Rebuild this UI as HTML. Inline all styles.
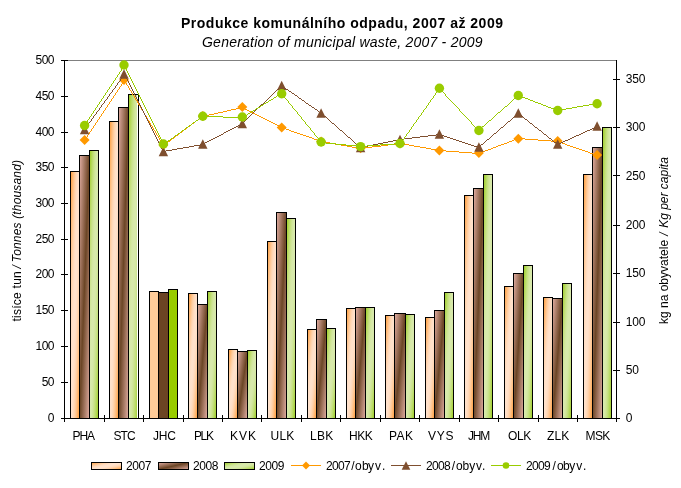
<!DOCTYPE html><html><head><meta charset="utf-8"><title>Produkce komunálního odpadu</title>
<style>html,body{margin:0;padding:0;background:#fff}svg{display:block}text{font-family:"Liberation Sans",Arial,sans-serif;fill:#000}</style></head><body>
<svg width="681" height="488" viewBox="0 0 681 488">
<defs>
<linearGradient id="g7" x1="0" y1="0" x2="1" y2="1"><stop offset="0.00" stop-color="#FF9933"/><stop offset="0.05" stop-color="#FFA44B"/><stop offset="0.10" stop-color="#FFB062"/><stop offset="0.15" stop-color="#FFBA78"/><stop offset="0.20" stop-color="#FFC48D"/><stop offset="0.25" stop-color="#FFCD9F"/><stop offset="0.30" stop-color="#FFD4AF"/><stop offset="0.35" stop-color="#FFDABB"/><stop offset="0.40" stop-color="#FFDEC5"/><stop offset="0.45" stop-color="#FFE1CA"/><stop offset="0.50" stop-color="#FFE2CC"/><stop offset="0.55" stop-color="#FFE1CA"/><stop offset="0.60" stop-color="#FFDEC5"/><stop offset="0.65" stop-color="#FFDABB"/><stop offset="0.70" stop-color="#FFD4AF"/><stop offset="0.75" stop-color="#FFCD9F"/><stop offset="0.80" stop-color="#FFC48D"/><stop offset="0.85" stop-color="#FFBA78"/><stop offset="0.90" stop-color="#FFB062"/><stop offset="0.95" stop-color="#FFA44B"/><stop offset="1.00" stop-color="#FF9933"/></linearGradient>
<linearGradient id="g8" x1="0" y1="0" x2="1" y2="1"><stop offset="0.00" stop-color="#E2AEA3"/><stop offset="0.05" stop-color="#D6A496"/><stop offset="0.10" stop-color="#CA998A"/><stop offset="0.15" stop-color="#BE8E7D"/><stop offset="0.20" stop-color="#B28471"/><stop offset="0.25" stop-color="#A67A64"/><stop offset="0.30" stop-color="#9B6F57"/><stop offset="0.35" stop-color="#8F644B"/><stop offset="0.40" stop-color="#835A3E"/><stop offset="0.45" stop-color="#775032"/><stop offset="0.50" stop-color="#6B4525"/><stop offset="0.55" stop-color="#775032"/><stop offset="0.60" stop-color="#835A3E"/><stop offset="0.65" stop-color="#8F644B"/><stop offset="0.70" stop-color="#9B6F57"/><stop offset="0.75" stop-color="#A67A64"/><stop offset="0.80" stop-color="#B28471"/><stop offset="0.85" stop-color="#BE8E7D"/><stop offset="0.90" stop-color="#CA998A"/><stop offset="0.95" stop-color="#D6A496"/><stop offset="1.00" stop-color="#E2AEA3"/></linearGradient>
<linearGradient id="g9" x1="0" y1="0" x2="1" y2="1"><stop offset="0.00" stop-color="#99CC1A"/><stop offset="0.05" stop-color="#A3D131"/><stop offset="0.10" stop-color="#ACD547"/><stop offset="0.15" stop-color="#B6D95C"/><stop offset="0.20" stop-color="#BEDD70"/><stop offset="0.25" stop-color="#C6E181"/><stop offset="0.30" stop-color="#CCE390"/><stop offset="0.35" stop-color="#D1E69C"/><stop offset="0.40" stop-color="#D5E8A5"/><stop offset="0.45" stop-color="#D7E9AA"/><stop offset="0.50" stop-color="#D8E9AC"/><stop offset="0.55" stop-color="#D7E9AA"/><stop offset="0.60" stop-color="#D5E8A5"/><stop offset="0.65" stop-color="#D1E69C"/><stop offset="0.70" stop-color="#CCE390"/><stop offset="0.75" stop-color="#C6E181"/><stop offset="0.80" stop-color="#BEDD70"/><stop offset="0.85" stop-color="#B6D95C"/><stop offset="0.90" stop-color="#ACD547"/><stop offset="0.95" stop-color="#A3D131"/><stop offset="1.00" stop-color="#99CC1A"/></linearGradient>
</defs>
<rect width="681" height="488" fill="#fff"/>
<text x="181" y="28.3" font-size="14" font-weight="bold" textLength="322" lengthAdjust="spacing">Produkce komunálního odpadu, 2007 až 2009</text>
<text x="202" y="47.3" font-size="14" font-style="italic" textLength="280.5" lengthAdjust="spacing">Generation of municipal waste, 2007 - 2009</text>
<g shape-rendering="crispEdges">
<rect x="64" y="60" width="553" height="1" fill="#808080"/>
<rect x="70.5" y="171.5" width="9" height="247" fill="url(#g7)" stroke="#000" stroke-width="1"/>
<rect x="79.5" y="155.5" width="10" height="263" fill="url(#g8)" stroke="#000" stroke-width="1"/>
<rect x="89.5" y="150.5" width="9" height="268" fill="url(#g9)" stroke="#000" stroke-width="1"/>
<rect x="109.5" y="121.5" width="9" height="297" fill="url(#g7)" stroke="#000" stroke-width="1"/>
<rect x="118.5" y="107.5" width="10" height="311" fill="url(#g8)" stroke="#000" stroke-width="1"/>
<rect x="128.5" y="94.5" width="10" height="324" fill="url(#g9)" stroke="#000" stroke-width="1"/>
<rect x="137" y="95" width="1" height="323" fill="#fff"/>
<rect x="149.5" y="291.5" width="9" height="127" fill="#FFCC99" stroke="#000" stroke-width="1"/>
<rect x="158.5" y="292.5" width="10" height="126" fill="#6B4423" stroke="#000" stroke-width="1"/>
<rect x="168.5" y="289.5" width="9" height="129" fill="#99CC00" stroke="#000" stroke-width="1"/>
<rect x="188.5" y="293.5" width="9" height="125" fill="url(#g7)" stroke="#000" stroke-width="1"/>
<rect x="197.5" y="304.5" width="10" height="114" fill="url(#g8)" stroke="#000" stroke-width="1"/>
<rect x="207.5" y="291.5" width="9" height="127" fill="url(#g9)" stroke="#000" stroke-width="1"/>
<rect x="228.5" y="349.5" width="9" height="69" fill="url(#g7)" stroke="#000" stroke-width="1"/>
<rect x="237.5" y="351.5" width="10" height="67" fill="url(#g8)" stroke="#000" stroke-width="1"/>
<rect x="247.5" y="350.5" width="9" height="68" fill="url(#g9)" stroke="#000" stroke-width="1"/>
<rect x="267.5" y="241.5" width="9" height="177" fill="url(#g7)" stroke="#000" stroke-width="1"/>
<rect x="276.5" y="212.5" width="10" height="206" fill="url(#g8)" stroke="#000" stroke-width="1"/>
<rect x="286.5" y="218.5" width="9" height="200" fill="url(#g9)" stroke="#000" stroke-width="1"/>
<rect x="307.5" y="329.5" width="9" height="89" fill="url(#g7)" stroke="#000" stroke-width="1"/>
<rect x="316.5" y="319.5" width="10" height="99" fill="url(#g8)" stroke="#000" stroke-width="1"/>
<rect x="326.5" y="328.5" width="9" height="90" fill="url(#g9)" stroke="#000" stroke-width="1"/>
<rect x="346.5" y="308.5" width="9" height="110" fill="url(#g7)" stroke="#000" stroke-width="1"/>
<rect x="355.5" y="307.5" width="10" height="111" fill="url(#g8)" stroke="#000" stroke-width="1"/>
<rect x="365.5" y="307.5" width="9" height="111" fill="url(#g9)" stroke="#000" stroke-width="1"/>
<rect x="385.5" y="315.5" width="9" height="103" fill="url(#g7)" stroke="#000" stroke-width="1"/>
<rect x="394.5" y="313.5" width="11" height="105" fill="url(#g8)" stroke="#000" stroke-width="1"/>
<rect x="405.5" y="314.5" width="9" height="104" fill="url(#g9)" stroke="#000" stroke-width="1"/>
<rect x="425.5" y="317.5" width="9" height="101" fill="url(#g7)" stroke="#000" stroke-width="1"/>
<rect x="434.5" y="310.5" width="10" height="108" fill="url(#g8)" stroke="#000" stroke-width="1"/>
<rect x="444.5" y="292.5" width="9" height="126" fill="url(#g9)" stroke="#000" stroke-width="1"/>
<rect x="464.5" y="195.5" width="9" height="223" fill="url(#g7)" stroke="#000" stroke-width="1"/>
<rect x="473.5" y="188.5" width="10" height="230" fill="url(#g8)" stroke="#000" stroke-width="1"/>
<rect x="483.5" y="174.5" width="9" height="244" fill="url(#g9)" stroke="#000" stroke-width="1"/>
<rect x="504.5" y="286.5" width="9" height="132" fill="url(#g7)" stroke="#000" stroke-width="1"/>
<rect x="513.5" y="273.5" width="10" height="145" fill="url(#g8)" stroke="#000" stroke-width="1"/>
<rect x="523.5" y="265.5" width="9" height="153" fill="url(#g9)" stroke="#000" stroke-width="1"/>
<rect x="543.5" y="297.5" width="9" height="121" fill="url(#g7)" stroke="#000" stroke-width="1"/>
<rect x="552.5" y="298.5" width="10" height="120" fill="url(#g8)" stroke="#000" stroke-width="1"/>
<rect x="562.5" y="283.5" width="9" height="135" fill="url(#g9)" stroke="#000" stroke-width="1"/>
<rect x="583.5" y="174.5" width="9" height="244" fill="url(#g7)" stroke="#000" stroke-width="1"/>
<rect x="592.5" y="147.5" width="10" height="271" fill="url(#g8)" stroke="#000" stroke-width="1"/>
<rect x="602.5" y="127.5" width="9" height="291" fill="url(#g9)" stroke="#000" stroke-width="1"/>
<rect x="64" y="60" width="1" height="359" fill="#000"/>
<rect x="616" y="60" width="1" height="359" fill="#000"/>
<rect x="64" y="418" width="553" height="1" fill="#000"/>
<rect x="61" y="418" width="7" height="1" fill="#000"/>
<rect x="61" y="382" width="7" height="1" fill="#000"/>
<rect x="61" y="346" width="7" height="1" fill="#000"/>
<rect x="61" y="310" width="7" height="1" fill="#000"/>
<rect x="61" y="274" width="7" height="1" fill="#000"/>
<rect x="61" y="239" width="7" height="1" fill="#000"/>
<rect x="61" y="203" width="7" height="1" fill="#000"/>
<rect x="61" y="167" width="7" height="1" fill="#000"/>
<rect x="61" y="132" width="7" height="1" fill="#000"/>
<rect x="61" y="96" width="7" height="1" fill="#000"/>
<rect x="61" y="60" width="7" height="1" fill="#000"/>
<rect x="613" y="418" width="7" height="1" fill="#000"/>
<rect x="613" y="370" width="7" height="1" fill="#000"/>
<rect x="613" y="322" width="7" height="1" fill="#000"/>
<rect x="613" y="273" width="7" height="1" fill="#000"/>
<rect x="613" y="225" width="7" height="1" fill="#000"/>
<rect x="613" y="175" width="7" height="1" fill="#000"/>
<rect x="613" y="127" width="7" height="1" fill="#000"/>
<rect x="613" y="79" width="7" height="1" fill="#000"/>
<rect x="64" y="415" width="1" height="7" fill="#000"/>
<rect x="104" y="415" width="1" height="7" fill="#000"/>
<rect x="143" y="415" width="1" height="7" fill="#000"/>
<rect x="183" y="415" width="1" height="7" fill="#000"/>
<rect x="222" y="415" width="1" height="7" fill="#000"/>
<rect x="261" y="415" width="1" height="7" fill="#000"/>
<rect x="301" y="415" width="1" height="7" fill="#000"/>
<rect x="340" y="415" width="1" height="7" fill="#000"/>
<rect x="380" y="415" width="1" height="7" fill="#000"/>
<rect x="419" y="415" width="1" height="7" fill="#000"/>
<rect x="459" y="415" width="1" height="7" fill="#000"/>
<rect x="498" y="415" width="1" height="7" fill="#000"/>
<rect x="538" y="415" width="1" height="7" fill="#000"/>
<rect x="577" y="415" width="1" height="7" fill="#000"/>
<rect x="616" y="415" width="1" height="7" fill="#000"/>
</g>
<path shape-rendering="crispEdges" fill="#FF9900" d="M124 80h1v1h-1zM123 81h1v1h-1zM125 81h1v1h-1zM123 82h1v1h-1zM125 82h1v1h-1zM122 83h1v1h-1zM126 83h1v1h-1zM121 84h1v1h-1zM126 84h1v1h-1zM121 85h1v1h-1zM127 85h1v1h-1zM120 86h1v1h-1zM128 86h1v1h-1zM119 87h1v1h-1zM128 87h1v1h-1zM119 88h1v1h-1zM129 88h1v1h-1zM118 89h1v1h-1zM129 89h1v1h-1zM117 90h1v1h-1zM130 90h1v1h-1zM117 91h1v1h-1zM131 91h1v1h-1zM116 92h1v1h-1zM131 92h1v1h-1zM115 93h1v1h-1zM132 93h1v1h-1zM115 94h1v1h-1zM132 94h1v1h-1zM114 95h1v1h-1zM133 95h1v1h-1zM113 96h1v1h-1zM134 96h1v1h-1zM113 97h1v1h-1zM134 97h1v1h-1zM112 98h1v1h-1zM135 98h1v1h-1zM111 99h1v1h-1zM135 99h1v1h-1zM111 100h1v1h-1zM136 100h1v1h-1zM110 101h1v1h-1zM137 101h1v1h-1zM109 102h1v1h-1zM137 102h1v1h-1zM109 103h1v1h-1zM138 103h1v1h-1zM108 104h1v1h-1zM138 104h1v1h-1zM107 105h1v1h-1zM139 105h1v1h-1zM107 106h1v1h-1zM140 106h1v1h-1zM106 107h1v1h-1zM140 107h1v1h-1zM240 107h3v1h-3zM105 108h1v1h-1zM141 108h1v1h-1zM236 108h4v1h-4zM243 108h2v1h-2zM105 109h1v1h-1zM141 109h1v1h-1zM231 109h5v1h-5zM245 109h2v1h-2zM104 110h1v1h-1zM142 110h1v1h-1zM227 110h4v1h-4zM247 110h2v1h-2zM103 111h1v1h-1zM143 111h1v1h-1zM223 111h4v1h-4zM249 111h2v1h-2zM103 112h1v1h-1zM143 112h1v1h-1zM218 112h5v1h-5zM251 112h2v1h-2zM102 113h1v1h-1zM144 113h1v1h-1zM214 113h4v1h-4zM253 113h2v1h-2zM101 114h1v1h-1zM144 114h1v1h-1zM209 114h5v1h-5zM255 114h2v1h-2zM101 115h1v1h-1zM145 115h1v1h-1zM205 115h4v1h-4zM257 115h2v1h-2zM100 116h1v1h-1zM146 116h1v1h-1zM202 116h3v1h-3zM259 116h2v1h-2zM99 117h1v1h-1zM146 117h1v1h-1zM200 117h2v1h-2zM261 117h2v1h-2zM99 118h1v1h-1zM147 118h1v1h-1zM199 118h1v1h-1zM263 118h2v1h-2zM98 119h1v1h-1zM147 119h1v1h-1zM198 119h1v1h-1zM265 119h2v1h-2zM97 120h1v1h-1zM148 120h1v1h-1zM196 120h2v1h-2zM267 120h2v1h-2zM97 121h1v1h-1zM149 121h1v1h-1zM195 121h1v1h-1zM269 121h2v1h-2zM96 122h1v1h-1zM149 122h1v1h-1zM194 122h1v1h-1zM271 122h2v1h-2zM95 123h1v1h-1zM150 123h1v1h-1zM192 123h2v1h-2zM273 123h2v1h-2zM95 124h1v1h-1zM150 124h1v1h-1zM191 124h1v1h-1zM275 124h2v1h-2zM94 125h1v1h-1zM151 125h1v1h-1zM190 125h1v1h-1zM277 125h2v1h-2zM93 126h1v1h-1zM152 126h1v1h-1zM188 126h2v1h-2zM279 126h2v1h-2zM93 127h1v1h-1zM152 127h1v1h-1zM187 127h1v1h-1zM281 127h2v1h-2zM92 128h1v1h-1zM153 128h1v1h-1zM186 128h1v1h-1zM283 128h3v1h-3zM91 129h1v1h-1zM153 129h1v1h-1zM184 129h2v1h-2zM286 129h3v1h-3zM91 130h1v1h-1zM154 130h1v1h-1zM183 130h1v1h-1zM289 130h2v1h-2zM90 131h1v1h-1zM155 131h1v1h-1zM182 131h1v1h-1zM291 131h3v1h-3zM89 132h1v1h-1zM155 132h1v1h-1zM180 132h2v1h-2zM294 132h3v1h-3zM89 133h1v1h-1zM156 133h1v1h-1zM179 133h1v1h-1zM297 133h3v1h-3zM88 134h1v1h-1zM156 134h1v1h-1zM178 134h1v1h-1zM300 134h3v1h-3zM87 135h1v1h-1zM157 135h1v1h-1zM176 135h2v1h-2zM303 135h3v1h-3zM87 136h1v1h-1zM158 136h1v1h-1zM175 136h1v1h-1zM306 136h3v1h-3zM86 137h1v1h-1zM158 137h1v1h-1zM174 137h1v1h-1zM309 137h3v1h-3zM85 138h1v1h-1zM159 138h1v1h-1zM172 138h2v1h-2zM312 138h2v1h-2zM517 138h8v1h-8zM85 139h1v1h-1zM159 139h1v1h-1zM171 139h1v1h-1zM314 139h3v1h-3zM514 139h3v1h-3zM525 139h13v1h-13zM84 140h1v1h-1zM160 140h1v1h-1zM170 140h1v1h-1zM317 140h3v1h-3zM512 140h2v1h-2zM538 140h13v1h-13zM161 141h1v1h-1zM168 141h2v1h-2zM320 141h4v1h-4zM509 141h3v1h-3zM551 141h8v1h-8zM161 142h1v1h-1zM167 142h1v1h-1zM324 142h6v1h-6zM507 142h2v1h-2zM559 142h3v1h-3zM162 143h1v1h-1zM166 143h1v1h-1zM330 143h5v1h-5zM397 143h6v1h-6zM504 143h3v1h-3zM562 143h3v1h-3zM162 144h1v1h-1zM164 144h2v1h-2zM335 144h6v1h-6zM388 144h9v1h-9zM403 144h6v1h-6zM501 144h3v1h-3zM565 144h2v1h-2zM163 145h1v1h-1zM341 145h6v1h-6zM381 145h7v1h-7zM409 145h5v1h-5zM498 145h3v1h-3zM567 145h3v1h-3zM347 146h5v1h-5zM372 146h9v1h-9zM414 146h6v1h-6zM496 146h2v1h-2zM570 146h3v1h-3zM352 147h6v1h-6zM365 147h7v1h-7zM420 147h6v1h-6zM493 147h3v1h-3zM573 147h3v1h-3zM358 148h7v1h-7zM426 148h5v1h-5zM491 148h2v1h-2zM576 148h3v1h-3zM431 149h6v1h-6zM488 149h3v1h-3zM579 149h3v1h-3zM437 150h9v1h-9zM485 150h3v1h-3zM582 150h3v1h-3zM446 151h13v1h-13zM482 151h3v1h-3zM585 151h3v1h-3zM459 152h13v1h-13zM480 152h2v1h-2zM588 152h2v1h-2zM472 153h8v1h-8zM590 153h3v1h-3zM593 154h3v1h-3zM596 155h2v1h-2z"/>
<polygon points="84.6,135 89.6,140 84.6,145 79.6,140" fill="#FF9900"/>
<polygon points="124.0,75 129.0,80 124.0,85 119.0,80" fill="#FF9900"/>
<polygon points="163.4,140 168.4,145 163.4,150 158.4,145" fill="#FF9900"/>
<polygon points="202.8,111 207.8,116 202.8,121 197.8,116" fill="#FF9900"/>
<polygon points="242.3,102 247.3,107 242.3,112 237.3,107" fill="#FF9900"/>
<polygon points="281.7,122.5 286.7,127.5 281.7,132.5 276.7,127.5" fill="#FF9900"/>
<polygon points="321.1,136.5 326.1,141.5 321.1,146.5 316.1,141.5" fill="#FF9900"/>
<polygon points="360.6,143.2 365.6,148.2 360.6,153.2 355.6,148.2" fill="#FF9900"/>
<polygon points="400.0,138.5 405.0,143.5 400.0,148.5 395.0,143.5" fill="#FF9900"/>
<polygon points="439.4,145.5 444.4,150.5 439.4,155.5 434.4,150.5" fill="#FF9900"/>
<polygon points="478.9,148 483.9,153 478.9,158 473.9,153" fill="#FF9900"/>
<polygon points="518.3,133.75 523.3,138.75 518.3,143.75 513.3,138.75" fill="#FF9900"/>
<polygon points="557.7,136 562.7,141 557.7,146 552.7,141" fill="#FF9900"/>
<polygon points="597.1,150 602.1,155 597.1,160 592.1,155" fill="#FF9900"/>
<path shape-rendering="crispEdges" fill="#7F4F2F" d="M124 74h1v1h-1zM123 75h1v1h-1zM125 75h1v1h-1zM123 76h1v1h-1zM125 76h1v1h-1zM122 77h1v1h-1zM126 77h1v1h-1zM121 78h1v1h-1zM126 78h1v1h-1zM120 79h1v1h-1zM127 79h1v1h-1zM120 80h1v1h-1zM127 80h1v1h-1zM119 81h1v1h-1zM128 81h1v1h-1zM118 82h1v1h-1zM128 82h1v1h-1zM117 83h1v1h-1zM129 83h1v1h-1zM117 84h1v1h-1zM129 84h1v1h-1zM116 85h1v1h-1zM130 85h1v1h-1zM281 85h1v1h-1zM115 86h1v1h-1zM130 86h1v1h-1zM280 86h1v1h-1zM282 86h2v1h-2zM115 87h1v1h-1zM131 87h1v1h-1zM279 87h1v1h-1zM284 87h1v1h-1zM114 88h1v1h-1zM131 88h1v1h-1zM278 88h1v1h-1zM285 88h1v1h-1zM113 89h1v1h-1zM132 89h1v1h-1zM277 89h1v1h-1zM286 89h2v1h-2zM112 90h1v1h-1zM132 90h1v1h-1zM276 90h1v1h-1zM288 90h1v1h-1zM112 91h1v1h-1zM133 91h1v1h-1zM275 91h1v1h-1zM289 91h2v1h-2zM111 92h1v1h-1zM133 92h1v1h-1zM274 92h1v1h-1zM291 92h1v1h-1zM110 93h1v1h-1zM134 93h1v1h-1zM273 93h1v1h-1zM292 93h2v1h-2zM109 94h1v1h-1zM134 94h1v1h-1zM272 94h1v1h-1zM294 94h1v1h-1zM109 95h1v1h-1zM135 95h1v1h-1zM271 95h1v1h-1zM295 95h2v1h-2zM108 96h1v1h-1zM135 96h1v1h-1zM270 96h1v1h-1zM297 96h1v1h-1zM107 97h1v1h-1zM136 97h1v1h-1zM269 97h1v1h-1zM298 97h1v1h-1zM107 98h1v1h-1zM136 98h1v1h-1zM268 98h1v1h-1zM299 98h2v1h-2zM106 99h1v1h-1zM137 99h1v1h-1zM267 99h1v1h-1zM301 99h1v1h-1zM105 100h1v1h-1zM137 100h1v1h-1zM266 100h1v1h-1zM302 100h2v1h-2zM104 101h1v1h-1zM138 101h1v1h-1zM265 101h1v1h-1zM304 101h1v1h-1zM104 102h1v1h-1zM138 102h1v1h-1zM264 102h1v1h-1zM305 102h1v1h-1zM103 103h1v1h-1zM139 103h1v1h-1zM263 103h1v1h-1zM306 103h2v1h-2zM102 104h1v1h-1zM139 104h1v1h-1zM261 104h2v1h-2zM308 104h1v1h-1zM101 105h1v1h-1zM140 105h1v1h-1zM260 105h1v1h-1zM309 105h2v1h-2zM101 106h1v1h-1zM140 106h1v1h-1zM259 106h1v1h-1zM311 106h1v1h-1zM100 107h1v1h-1zM141 107h1v1h-1zM258 107h1v1h-1zM312 107h2v1h-2zM99 108h1v1h-1zM141 108h1v1h-1zM257 108h1v1h-1zM314 108h1v1h-1zM99 109h1v1h-1zM142 109h1v1h-1zM256 109h1v1h-1zM315 109h2v1h-2zM98 110h1v1h-1zM142 110h1v1h-1zM255 110h1v1h-1zM317 110h1v1h-1zM97 111h1v1h-1zM143 111h1v1h-1zM254 111h1v1h-1zM318 111h1v1h-1zM96 112h1v1h-1zM143 112h1v1h-1zM253 112h1v1h-1zM319 112h2v1h-2zM96 113h1v1h-1zM144 113h1v1h-1zM252 113h1v1h-1zM321 113h1v1h-1zM518 113h1v1h-1zM95 114h1v1h-1zM144 114h1v1h-1zM251 114h1v1h-1zM322 114h1v1h-1zM517 114h1v1h-1zM519 114h1v1h-1zM94 115h1v1h-1zM145 115h1v1h-1zM250 115h1v1h-1zM323 115h1v1h-1zM516 115h1v1h-1zM520 115h2v1h-2zM93 116h1v1h-1zM145 116h1v1h-1zM249 116h1v1h-1zM324 116h2v1h-2zM514 116h2v1h-2zM522 116h1v1h-1zM93 117h1v1h-1zM146 117h1v1h-1zM248 117h1v1h-1zM326 117h1v1h-1zM513 117h1v1h-1zM523 117h1v1h-1zM92 118h1v1h-1zM146 118h1v1h-1zM247 118h1v1h-1zM327 118h1v1h-1zM512 118h1v1h-1zM524 118h1v1h-1zM91 119h1v1h-1zM147 119h1v1h-1zM246 119h1v1h-1zM328 119h1v1h-1zM511 119h1v1h-1zM525 119h2v1h-2zM91 120h1v1h-1zM147 120h1v1h-1zM245 120h1v1h-1zM329 120h1v1h-1zM510 120h1v1h-1zM527 120h1v1h-1zM90 121h1v1h-1zM148 121h1v1h-1zM244 121h1v1h-1zM330 121h1v1h-1zM508 121h2v1h-2zM528 121h1v1h-1zM89 122h1v1h-1zM148 122h1v1h-1zM243 122h1v1h-1zM331 122h1v1h-1zM507 122h1v1h-1zM529 122h1v1h-1zM88 123h1v1h-1zM149 123h1v1h-1zM242 123h1v1h-1zM332 123h2v1h-2zM506 123h1v1h-1zM530 123h2v1h-2zM88 124h1v1h-1zM149 124h1v1h-1zM240 124h2v1h-2zM334 124h1v1h-1zM505 124h1v1h-1zM532 124h1v1h-1zM87 125h1v1h-1zM150 125h1v1h-1zM238 125h2v1h-2zM335 125h1v1h-1zM504 125h1v1h-1zM533 125h1v1h-1zM86 126h1v1h-1zM150 126h1v1h-1zM236 126h2v1h-2zM336 126h1v1h-1zM503 126h1v1h-1zM534 126h1v1h-1zM596 126h2v1h-2zM85 127h1v1h-1zM151 127h1v1h-1zM234 127h2v1h-2zM337 127h1v1h-1zM501 127h2v1h-2zM535 127h2v1h-2zM594 127h2v1h-2zM85 128h1v1h-1zM151 128h1v1h-1zM232 128h2v1h-2zM338 128h1v1h-1zM500 128h1v1h-1zM537 128h1v1h-1zM592 128h2v1h-2zM84 129h1v1h-1zM152 129h1v1h-1zM230 129h2v1h-2zM339 129h1v1h-1zM499 129h1v1h-1zM538 129h1v1h-1zM590 129h2v1h-2zM152 130h1v1h-1zM228 130h2v1h-2zM340 130h2v1h-2zM498 130h1v1h-1zM539 130h2v1h-2zM587 130h3v1h-3zM153 131h1v1h-1zM226 131h2v1h-2zM342 131h1v1h-1zM497 131h1v1h-1zM541 131h1v1h-1zM585 131h2v1h-2zM153 132h1v1h-1zM224 132h2v1h-2zM343 132h1v1h-1zM496 132h1v1h-1zM542 132h1v1h-1zM583 132h2v1h-2zM154 133h1v1h-1zM223 133h1v1h-1zM344 133h1v1h-1zM494 133h2v1h-2zM543 133h1v1h-1zM581 133h2v1h-2zM154 134h1v1h-1zM221 134h2v1h-2zM345 134h1v1h-1zM436 134h5v1h-5zM493 134h1v1h-1zM544 134h2v1h-2zM579 134h2v1h-2zM155 135h1v1h-1zM219 135h2v1h-2zM346 135h1v1h-1zM428 135h8v1h-8zM441 135h3v1h-3zM492 135h1v1h-1zM546 135h1v1h-1zM576 135h3v1h-3zM155 136h1v1h-1zM217 136h2v1h-2zM347 136h1v1h-1zM420 136h8v1h-8zM444 136h3v1h-3zM491 136h1v1h-1zM547 136h1v1h-1zM574 136h2v1h-2zM156 137h1v1h-1zM215 137h2v1h-2zM348 137h2v1h-2zM412 137h8v1h-8zM447 137h3v1h-3zM490 137h1v1h-1zM548 137h1v1h-1zM572 137h2v1h-2zM156 138h1v1h-1zM213 138h2v1h-2zM350 138h1v1h-1zM404 138h8v1h-8zM450 138h3v1h-3zM489 138h1v1h-1zM549 138h2v1h-2zM570 138h2v1h-2zM157 139h1v1h-1zM211 139h2v1h-2zM351 139h1v1h-1zM398 139h6v1h-6zM453 139h3v1h-3zM487 139h2v1h-2zM551 139h1v1h-1zM568 139h2v1h-2zM157 140h1v1h-1zM209 140h2v1h-2zM352 140h1v1h-1zM393 140h5v1h-5zM456 140h3v1h-3zM486 140h1v1h-1zM552 140h1v1h-1zM565 140h3v1h-3zM158 141h1v1h-1zM207 141h2v1h-2zM353 141h1v1h-1zM388 141h5v1h-5zM459 141h3v1h-3zM485 141h1v1h-1zM553 141h1v1h-1zM563 141h2v1h-2zM158 142h1v1h-1zM205 142h2v1h-2zM354 142h1v1h-1zM383 142h5v1h-5zM462 142h3v1h-3zM484 142h1v1h-1zM554 142h2v1h-2zM561 142h2v1h-2zM159 143h1v1h-1zM203 143h2v1h-2zM355 143h1v1h-1zM378 143h5v1h-5zM465 143h3v1h-3zM483 143h1v1h-1zM556 143h1v1h-1zM559 143h2v1h-2zM159 144h1v1h-1zM200 144h3v1h-3zM356 144h2v1h-2zM373 144h5v1h-5zM468 144h3v1h-3zM481 144h2v1h-2zM557 144h2v1h-2zM160 145h1v1h-1zM194 145h6v1h-6zM358 145h1v1h-1zM368 145h5v1h-5zM471 145h3v1h-3zM480 145h1v1h-1zM160 146h1v1h-1zM189 146h5v1h-5zM359 146h1v1h-1zM363 146h5v1h-5zM474 146h3v1h-3zM479 146h1v1h-1zM161 147h1v1h-1zM183 147h6v1h-6zM360 147h3v1h-3zM477 147h2v1h-2zM161 148h1v1h-1zM177 148h6v1h-6zM162 149h1v1h-1zM172 149h5v1h-5zM162 150h1v1h-1zM166 150h6v1h-6zM163 151h3v1h-3z"/>
<polygon points="84.6,124.8 89.3,134.2 79.89999999999999,134.2" fill="#7F4F2F"/>
<polygon points="124.0,69.3 128.7,78.7 119.3,78.7" fill="#7F4F2F"/>
<polygon points="163.4,146.8 168.1,156.2 158.70000000000002,156.2" fill="#7F4F2F"/>
<polygon points="202.8,139.3 207.5,148.7 198.10000000000002,148.7" fill="#7F4F2F"/>
<polygon points="242.3,118.8 247.0,128.2 237.60000000000002,128.2" fill="#7F4F2F"/>
<polygon points="281.7,80.8 286.4,90.2 277.0,90.2" fill="#7F4F2F"/>
<polygon points="321.1,108.3 325.8,117.7 316.40000000000003,117.7" fill="#7F4F2F"/>
<polygon points="360.6,142.8 365.3,152.2 355.90000000000003,152.2" fill="#7F4F2F"/>
<polygon points="400.0,134.8 404.7,144.2 395.3,144.2" fill="#7F4F2F"/>
<polygon points="439.4,129.3 444.09999999999997,138.7 434.7,138.7" fill="#7F4F2F"/>
<polygon points="478.9,142.3 483.59999999999997,151.7 474.2,151.7" fill="#7F4F2F"/>
<polygon points="518.3,108.3 523.0,117.7 513.5999999999999,117.7" fill="#7F4F2F"/>
<polygon points="557.7,139.3 562.4000000000001,148.7 553.0,148.7" fill="#7F4F2F"/>
<polygon points="597.1,121.3 601.8000000000001,130.7 592.4,130.7" fill="#7F4F2F"/>
<path shape-rendering="crispEdges" fill="#99CC00" d="M124 65h1v1h-1zM123 66h2v1h-2zM123 67h1v1h-1zM125 67h1v1h-1zM122 68h1v1h-1zM125 68h1v1h-1zM121 69h1v1h-1zM126 69h1v1h-1zM121 70h1v1h-1zM126 70h1v1h-1zM120 71h1v1h-1zM127 71h1v1h-1zM119 72h1v1h-1zM127 72h1v1h-1zM119 73h1v1h-1zM128 73h1v1h-1zM118 74h1v1h-1zM128 74h1v1h-1zM117 75h1v1h-1zM129 75h1v1h-1zM117 76h1v1h-1zM129 76h1v1h-1zM116 77h1v1h-1zM130 77h1v1h-1zM115 78h1v1h-1zM130 78h1v1h-1zM115 79h1v1h-1zM131 79h1v1h-1zM114 80h1v1h-1zM131 80h1v1h-1zM113 81h1v1h-1zM132 81h1v1h-1zM113 82h1v1h-1zM132 82h1v1h-1zM112 83h1v1h-1zM133 83h1v1h-1zM111 84h1v1h-1zM133 84h1v1h-1zM111 85h1v1h-1zM134 85h1v1h-1zM110 86h1v1h-1zM134 86h1v1h-1zM109 87h1v1h-1zM135 87h1v1h-1zM109 88h1v1h-1zM135 88h1v1h-1zM439 88h1v1h-1zM108 89h1v1h-1zM136 89h1v1h-1zM438 89h1v1h-1zM440 89h1v1h-1zM107 90h1v1h-1zM136 90h1v1h-1zM438 90h1v1h-1zM441 90h1v1h-1zM107 91h1v1h-1zM137 91h1v1h-1zM437 91h1v1h-1zM442 91h1v1h-1zM106 92h1v1h-1zM137 92h1v1h-1zM436 92h1v1h-1zM443 92h1v1h-1zM105 93h1v1h-1zM138 93h1v1h-1zM281 93h1v1h-1zM435 93h1v1h-1zM444 93h1v1h-1zM105 94h1v1h-1zM138 94h1v1h-1zM279 94h2v1h-2zM282 94h1v1h-1zM435 94h1v1h-1zM445 94h1v1h-1zM104 95h1v1h-1zM139 95h1v1h-1zM277 95h2v1h-2zM283 95h1v1h-1zM434 95h1v1h-1zM445 95h1v1h-1zM518 95h2v1h-2zM103 96h1v1h-1zM139 96h1v1h-1zM276 96h1v1h-1zM283 96h1v1h-1zM433 96h1v1h-1zM446 96h1v1h-1zM517 96h1v1h-1zM520 96h2v1h-2zM103 97h1v1h-1zM140 97h1v1h-1zM274 97h2v1h-2zM284 97h1v1h-1zM433 97h1v1h-1zM447 97h1v1h-1zM516 97h1v1h-1zM522 97h3v1h-3zM102 98h1v1h-1zM140 98h1v1h-1zM273 98h1v1h-1zM285 98h1v1h-1zM432 98h1v1h-1zM448 98h1v1h-1zM514 98h2v1h-2zM525 98h3v1h-3zM101 99h1v1h-1zM141 99h1v1h-1zM271 99h2v1h-2zM286 99h1v1h-1zM431 99h1v1h-1zM449 99h1v1h-1zM513 99h1v1h-1zM528 99h2v1h-2zM101 100h1v1h-1zM141 100h1v1h-1zM269 100h2v1h-2zM287 100h1v1h-1zM430 100h1v1h-1zM450 100h1v1h-1zM512 100h1v1h-1zM530 100h3v1h-3zM100 101h1v1h-1zM142 101h1v1h-1zM268 101h1v1h-1zM288 101h1v1h-1zM430 101h1v1h-1zM451 101h1v1h-1zM511 101h1v1h-1zM533 101h2v1h-2zM99 102h1v1h-1zM142 102h1v1h-1zM266 102h2v1h-2zM288 102h1v1h-1zM429 102h1v1h-1zM452 102h1v1h-1zM510 102h1v1h-1zM535 102h3v1h-3zM99 103h1v1h-1zM143 103h1v1h-1zM264 103h2v1h-2zM289 103h1v1h-1zM428 103h1v1h-1zM453 103h1v1h-1zM509 103h1v1h-1zM538 103h3v1h-3zM595 103h3v1h-3zM98 104h1v1h-1zM143 104h1v1h-1zM263 104h1v1h-1zM290 104h1v1h-1zM428 104h1v1h-1zM454 104h1v1h-1zM508 104h1v1h-1zM541 104h2v1h-2zM589 104h6v1h-6zM97 105h1v1h-1zM144 105h1v1h-1zM261 105h2v1h-2zM291 105h1v1h-1zM427 105h1v1h-1zM455 105h1v1h-1zM507 105h1v1h-1zM543 105h3v1h-3zM583 105h6v1h-6zM97 106h1v1h-1zM144 106h1v1h-1zM260 106h1v1h-1zM292 106h1v1h-1zM426 106h1v1h-1zM456 106h1v1h-1zM505 106h2v1h-2zM546 106h2v1h-2zM577 106h6v1h-6zM96 107h1v1h-1zM145 107h1v1h-1zM258 107h2v1h-2zM292 107h1v1h-1zM426 107h1v1h-1zM457 107h1v1h-1zM504 107h1v1h-1zM548 107h3v1h-3zM572 107h5v1h-5zM95 108h1v1h-1zM145 108h1v1h-1zM256 108h2v1h-2zM293 108h1v1h-1zM425 108h1v1h-1zM458 108h1v1h-1zM503 108h1v1h-1zM551 108h3v1h-3zM566 108h6v1h-6zM95 109h1v1h-1zM146 109h1v1h-1zM255 109h1v1h-1zM294 109h1v1h-1zM424 109h1v1h-1zM459 109h1v1h-1zM502 109h1v1h-1zM554 109h2v1h-2zM560 109h6v1h-6zM94 110h1v1h-1zM146 110h1v1h-1zM253 110h2v1h-2zM295 110h1v1h-1zM423 110h1v1h-1zM459 110h1v1h-1zM501 110h1v1h-1zM556 110h4v1h-4zM93 111h1v1h-1zM147 111h1v1h-1zM251 111h2v1h-2zM296 111h1v1h-1zM423 111h1v1h-1zM460 111h1v1h-1zM500 111h1v1h-1zM93 112h1v1h-1zM147 112h1v1h-1zM250 112h1v1h-1zM297 112h1v1h-1zM422 112h1v1h-1zM461 112h1v1h-1zM498 112h2v1h-2zM92 113h1v1h-1zM148 113h1v1h-1zM248 113h2v1h-2zM297 113h1v1h-1zM421 113h1v1h-1zM462 113h1v1h-1zM497 113h1v1h-1zM91 114h1v1h-1zM148 114h1v1h-1zM247 114h1v1h-1zM298 114h1v1h-1zM421 114h1v1h-1zM463 114h1v1h-1zM496 114h1v1h-1zM91 115h1v1h-1zM149 115h1v1h-1zM245 115h2v1h-2zM299 115h1v1h-1zM420 115h1v1h-1zM464 115h1v1h-1zM495 115h1v1h-1zM90 116h1v1h-1zM149 116h1v1h-1zM202 116h21v1h-21zM243 116h2v1h-2zM300 116h1v1h-1zM419 116h1v1h-1zM465 116h1v1h-1zM494 116h1v1h-1zM89 117h1v1h-1zM150 117h1v1h-1zM200 117h2v1h-2zM223 117h20v1h-20zM301 117h1v1h-1zM418 117h1v1h-1zM466 117h1v1h-1zM493 117h1v1h-1zM89 118h1v1h-1zM150 118h1v1h-1zM199 118h1v1h-1zM301 118h1v1h-1zM418 118h1v1h-1zM467 118h1v1h-1zM492 118h1v1h-1zM88 119h1v1h-1zM151 119h1v1h-1zM198 119h1v1h-1zM302 119h1v1h-1zM417 119h1v1h-1zM468 119h1v1h-1zM491 119h1v1h-1zM87 120h1v1h-1zM151 120h1v1h-1zM196 120h2v1h-2zM303 120h1v1h-1zM416 120h1v1h-1zM469 120h1v1h-1zM489 120h2v1h-2zM87 121h1v1h-1zM152 121h1v1h-1zM195 121h1v1h-1zM304 121h1v1h-1zM416 121h1v1h-1zM470 121h1v1h-1zM488 121h1v1h-1zM86 122h1v1h-1zM152 122h1v1h-1zM193 122h2v1h-2zM305 122h1v1h-1zM415 122h1v1h-1zM471 122h1v1h-1zM487 122h1v1h-1zM85 123h1v1h-1zM153 123h1v1h-1zM192 123h1v1h-1zM305 123h1v1h-1zM414 123h1v1h-1zM471 123h1v1h-1zM486 123h1v1h-1zM85 124h1v1h-1zM153 124h1v1h-1zM191 124h1v1h-1zM306 124h1v1h-1zM413 124h1v1h-1zM472 124h1v1h-1zM485 124h1v1h-1zM84 125h1v1h-1zM154 125h1v1h-1zM189 125h2v1h-2zM307 125h1v1h-1zM413 125h1v1h-1zM473 125h1v1h-1zM484 125h1v1h-1zM154 126h1v1h-1zM188 126h1v1h-1zM308 126h1v1h-1zM412 126h1v1h-1zM474 126h1v1h-1zM482 126h2v1h-2zM155 127h1v1h-1zM186 127h2v1h-2zM309 127h1v1h-1zM411 127h1v1h-1zM475 127h1v1h-1zM481 127h1v1h-1zM155 128h1v1h-1zM185 128h1v1h-1zM310 128h1v1h-1zM411 128h1v1h-1zM476 128h1v1h-1zM480 128h1v1h-1zM156 129h1v1h-1zM184 129h1v1h-1zM310 129h1v1h-1zM410 129h1v1h-1zM477 129h1v1h-1zM479 129h1v1h-1zM156 130h1v1h-1zM182 130h2v1h-2zM311 130h1v1h-1zM409 130h1v1h-1zM478 130h1v1h-1zM157 131h1v1h-1zM181 131h1v1h-1zM312 131h1v1h-1zM409 131h1v1h-1zM157 132h1v1h-1zM180 132h1v1h-1zM313 132h1v1h-1zM408 132h1v1h-1zM158 133h1v1h-1zM178 133h2v1h-2zM314 133h1v1h-1zM407 133h1v1h-1zM158 134h1v1h-1zM177 134h1v1h-1zM314 134h1v1h-1zM406 134h1v1h-1zM159 135h1v1h-1zM175 135h2v1h-2zM315 135h1v1h-1zM406 135h1v1h-1zM159 136h1v1h-1zM174 136h1v1h-1zM316 136h1v1h-1zM405 136h1v1h-1zM160 137h1v1h-1zM173 137h1v1h-1zM317 137h1v1h-1zM404 137h1v1h-1zM160 138h1v1h-1zM171 138h2v1h-2zM318 138h1v1h-1zM404 138h1v1h-1zM161 139h1v1h-1zM170 139h1v1h-1zM319 139h1v1h-1zM403 139h1v1h-1zM161 140h1v1h-1zM168 140h2v1h-2zM319 140h1v1h-1zM402 140h1v1h-1zM162 141h1v1h-1zM167 141h1v1h-1zM320 141h1v1h-1zM401 141h1v1h-1zM162 142h1v1h-1zM166 142h1v1h-1zM321 142h5v1h-5zM401 142h1v1h-1zM163 143h3v1h-3zM326 143h10v1h-10zM394 143h7v1h-7zM163 144h1v1h-1zM336 144h10v1h-10zM380 144h14v1h-14zM346 145h10v1h-10zM367 145h13v1h-13zM356 146h11v1h-11z"/>
<circle cx="84.6" cy="125.5" r="4.7" fill="#99CC00"/>
<circle cx="124.0" cy="65" r="4.7" fill="#99CC00"/>
<circle cx="163.4" cy="144" r="4.7" fill="#99CC00"/>
<circle cx="202.8" cy="116.25" r="4.7" fill="#99CC00"/>
<circle cx="242.3" cy="117" r="4.7" fill="#99CC00"/>
<circle cx="281.7" cy="93.75" r="4.7" fill="#99CC00"/>
<circle cx="321.1" cy="142" r="4.7" fill="#99CC00"/>
<circle cx="360.6" cy="146.6" r="4.7" fill="#99CC00"/>
<circle cx="400.0" cy="143.5" r="4.7" fill="#99CC00"/>
<circle cx="439.4" cy="88.25" r="4.7" fill="#99CC00"/>
<circle cx="478.9" cy="130.5" r="4.7" fill="#99CC00"/>
<circle cx="518.3" cy="95.5" r="4.7" fill="#99CC00"/>
<circle cx="557.7" cy="110.5" r="4.7" fill="#99CC00"/>
<circle cx="597.1" cy="103.75" r="4.7" fill="#99CC00"/>
<text x="54" y="422.0" font-size="12" text-anchor="end" letter-spacing="-0.5">0</text>
<text x="54" y="386.0" font-size="12" text-anchor="end" letter-spacing="-0.5">50</text>
<text x="54" y="350.0" font-size="12" text-anchor="end" letter-spacing="-0.5">100</text>
<text x="54" y="314.0" font-size="12" text-anchor="end" letter-spacing="-0.5">150</text>
<text x="54" y="278.0" font-size="12" text-anchor="end" letter-spacing="-0.5">200</text>
<text x="54" y="243.0" font-size="12" text-anchor="end" letter-spacing="-0.5">250</text>
<text x="54" y="207.0" font-size="12" text-anchor="end" letter-spacing="-0.5">300</text>
<text x="54" y="171.0" font-size="12" text-anchor="end" letter-spacing="-0.5">350</text>
<text x="54" y="136.0" font-size="12" text-anchor="end" letter-spacing="-0.5">400</text>
<text x="54" y="100.0" font-size="12" text-anchor="end" letter-spacing="-0.5">450</text>
<text x="54" y="64.0" font-size="12" text-anchor="end" letter-spacing="-0.5">500</text>
<text x="625.7" y="422.0" font-size="12" letter-spacing="-0.1">0</text>
<text x="625.7" y="374.0" font-size="12" letter-spacing="-0.1">50</text>
<text x="625.7" y="326.0" font-size="12" letter-spacing="-0.1">100</text>
<text x="625.7" y="277.0" font-size="12" letter-spacing="-0.1">150</text>
<text x="625.7" y="229.0" font-size="12" letter-spacing="-0.1">200</text>
<text x="625.7" y="180.0" font-size="12" letter-spacing="-0.1">250</text>
<text x="625.7" y="131.0" font-size="12" letter-spacing="-0.1">300</text>
<text x="625.7" y="83.0" font-size="12" letter-spacing="-0.1">350</text>
<text x="72.50" y="439.5" font-size="12" letter-spacing="-1.12">PHA</text>
<text x="113.50" y="439.5" font-size="12" letter-spacing="-0.88">STC</text>
<text x="153.00" y="439.5" font-size="12" letter-spacing="-0.25">JHC</text>
<text x="194.00" y="439.5" font-size="12" letter-spacing="-1.38">PLK</text>
<text x="230.00" y="439.5" font-size="12" letter-spacing="1.00">KVK</text>
<text x="270.50" y="439.5" font-size="12" letter-spacing="0.25">ULK</text>
<text x="310.00" y="439.5" font-size="12" letter-spacing="0.25">LBK</text>
<text x="349.00" y="439.5" font-size="12" letter-spacing="-0.50">HKK</text>
<text x="389.00" y="439.5" font-size="12" letter-spacing="0.50">PAK</text>
<text x="428.00" y="439.5" font-size="12" letter-spacing="0.75">VYS</text>
<text x="468.00" y="439.5" font-size="12" letter-spacing="-1.25">JHM</text>
<text x="508.00" y="439.5" font-size="12" letter-spacing="-0.38">OLK</text>
<text x="547.00" y="439.5" font-size="12" letter-spacing="0.12">ZLK</text>
<text x="585.50" y="439.5" font-size="12" letter-spacing="-0.62">MSK</text>
<g transform="translate(21,321.5) rotate(-90)" font-size="12"><text x="0" y="0" textLength="50.3" lengthAdjust="spacing">tisíce tun</text><text x="53" y="0" font-style="italic">/</text><text x="59.3" y="0" font-style="italic" textLength="102.2" lengthAdjust="spacing">Tonnes (thousand)</text></g>
<g transform="translate(668,324) rotate(-90)" font-size="12"><text x="0" y="0">kg na obyvatele</text><text x="88.3" y="0" font-style="italic">/</text><text x="96.2" y="0" font-style="italic" textLength="70.7" lengthAdjust="spacing">Kg per capita</text></g>
<g shape-rendering="crispEdges">
<rect x="91.5" y="462.5" width="30" height="7" fill="url(#g7)" stroke="#000"/>
<rect x="158.5" y="462.5" width="30" height="7" fill="url(#g8)" stroke="#000"/>
<rect x="224.5" y="462.5" width="30" height="7" fill="url(#g9)" stroke="#000"/>
</g>
<text x="126" y="470" font-size="12" textLength="25.5" lengthAdjust="spacing">2007</text>
<text x="193" y="470" font-size="12" textLength="25.5" lengthAdjust="spacing">2008</text>
<text x="259" y="470" font-size="12" textLength="25.5" lengthAdjust="spacing">2009</text>
<rect shape-rendering="crispEdges" x="291" y="465" width="30" height="1" fill="#FF9900"/>
<polygon points="306,461.5 310,465.5 306,469.5 302,465.5" fill="#FF9900"/>
<text x="326 332 338 344 351.3 355 362 368 375 382" y="470" font-size="12">2007/obyv.</text>
<rect shape-rendering="crispEdges" x="391" y="465" width="30" height="1" fill="#7F4F2F"/>
<polygon points="406,461.2 410.3,469.8 401.7,469.8" fill="#7F4F2F"/>
<text x="426 432 438 444 451.8 456 462.5 469.3 476 482" y="470" font-size="12">2008/obyv.</text>
<rect shape-rendering="crispEdges" x="491" y="465" width="30" height="1" fill="#99CC00"/>
<circle cx="506" cy="465.5" r="3.3" fill="#99CC00"/>
<text x="526 532 538 544 552.5 557 563 569.3 576.3 583" y="470" font-size="12">2009/obyv.</text>
</svg></body></html>
